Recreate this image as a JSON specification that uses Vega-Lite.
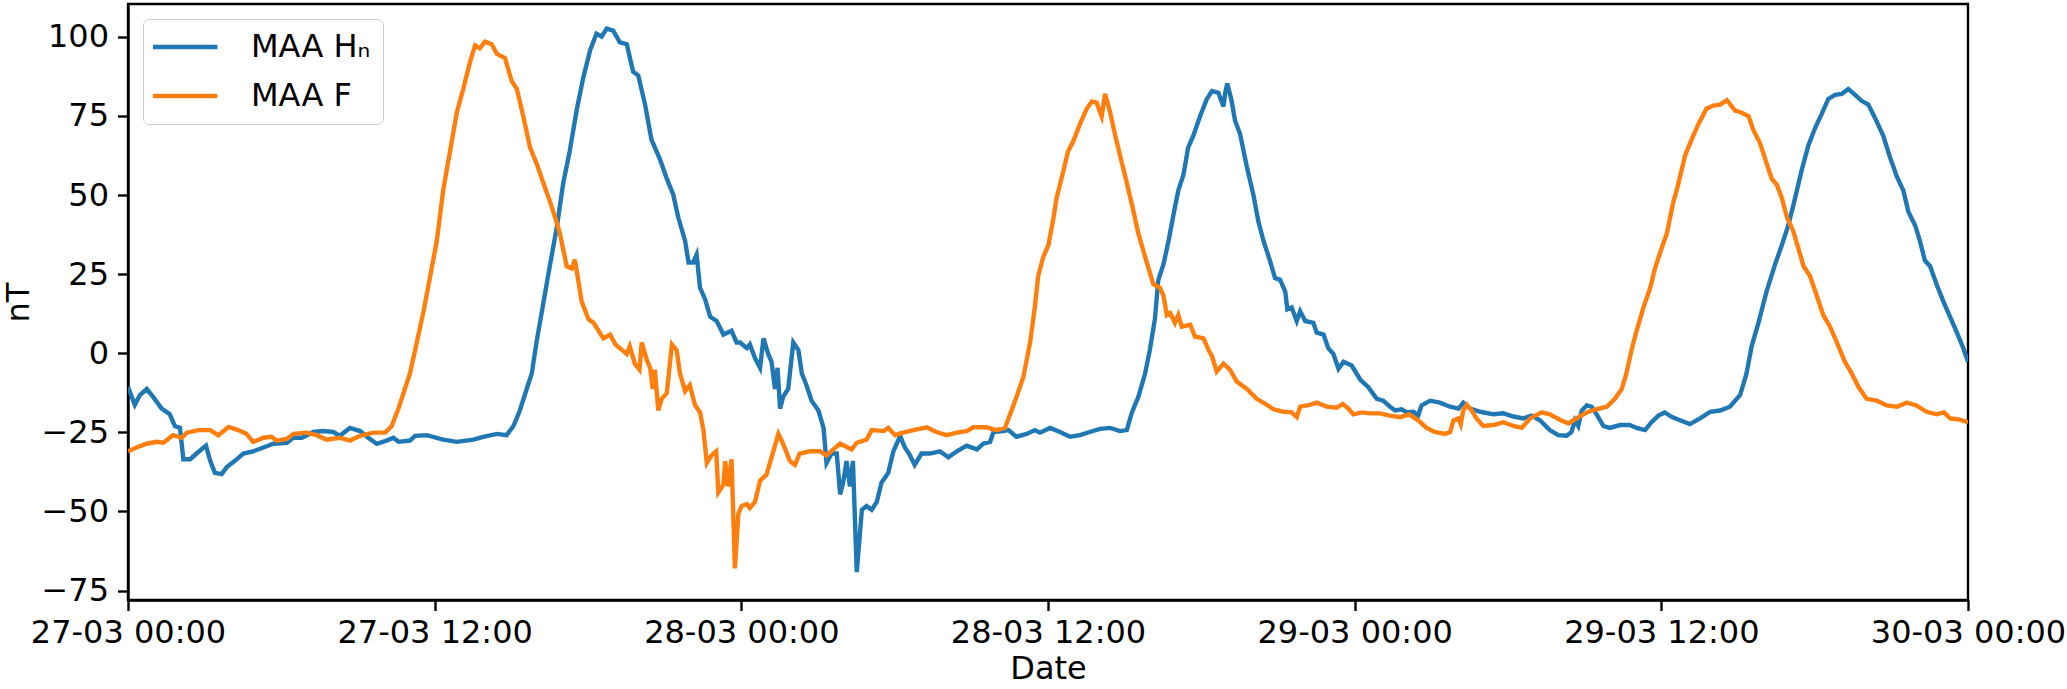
{
"$schema": "https://vega.github.io/schema/vega-lite/v6.json",
"width": 1840, "height": 596,
"autosize": {"type": "none"},
"padding": {"left": 128, "top": 4, "right": 99, "bottom": 89},
"background": "white",
"config": {
  "font": "DejaVu Sans",
  "view": {"stroke": "black", "strokeWidth": 2.4},
  "axis": {"grid": false, "domainColor": "black", "domainWidth": 2.4, "tickColor": "black", "tickWidth": 2.4, "tickSize": 10.5, "labelFont": "DejaVu Sans", "labelFontSize": 32, "labelColor": "black", "labelLimit": 0, "titleFont": "DejaVu Sans", "titleFontSize": 32, "titleFontWeight": "normal", "titleColor": "black"}
},
"data": {"values": [
{"t":"2024-03-27T00:00","s":"MAA Hₙ","v":-10.7},{"t":"2024-03-27T00:16","s":"MAA Hₙ","v":-16.3},{"t":"2024-03-27T00:28","s":"MAA Hₙ","v":-13.2},{"t":"2024-03-27T00:44","s":"MAA Hₙ","v":-11.3},{"t":"2024-03-27T00:59","s":"MAA Hₙ","v":-13.8},{"t":"2024-03-27T01:19","s":"MAA Hₙ","v":-17.5},{"t":"2024-03-27T01:38","s":"MAA Hₙ","v":-19.3},{"t":"2024-03-27T01:50","s":"MAA Hₙ","v":-23},{"t":"2024-03-27T02:02","s":"MAA Hₙ","v":-23.6},{"t":"2024-03-27T02:10","s":"MAA Hₙ","v":-33.5},{"t":"2024-03-27T02:26","s":"MAA Hₙ","v":-33.5},{"t":"2024-03-27T02:41","s":"MAA Hₙ","v":-31.7},{"t":"2024-03-27T03:03","s":"MAA Hₙ","v":-29.2},{"t":"2024-03-27T03:13","s":"MAA Hₙ","v":-34},{"t":"2024-03-27T03:24","s":"MAA Hₙ","v":-37.8},{"t":"2024-03-27T03:40","s":"MAA Hₙ","v":-38.2},{"t":"2024-03-27T03:52","s":"MAA Hₙ","v":-36},{"t":"2024-03-27T04:11","s":"MAA Hₙ","v":-34},{"t":"2024-03-27T04:31","s":"MAA Hₙ","v":-31.7},{"t":"2024-03-27T04:54","s":"MAA Hₙ","v":-31},{"t":"2024-03-27T05:18","s":"MAA Hₙ","v":-29.8},{"t":"2024-03-27T05:41","s":"MAA Hₙ","v":-28.6},{"t":"2024-03-27T06:13","s":"MAA Hₙ","v":-28.3},{"t":"2024-03-27T06:28","s":"MAA Hₙ","v":-26.7},{"t":"2024-03-27T06:48","s":"MAA Hₙ","v":-26.7},{"t":"2024-03-27T07:15","s":"MAA Hₙ","v":-24.9},{"t":"2024-03-27T07:38","s":"MAA Hₙ","v":-24.6},{"t":"2024-03-27T08:02","s":"MAA Hₙ","v":-24.9},{"t":"2024-03-27T08:17","s":"MAA Hₙ","v":-26.1},{"t":"2024-03-27T08:41","s":"MAA Hₙ","v":-23.6},{"t":"2024-03-27T09:05","s":"MAA Hₙ","v":-24.6},{"t":"2024-03-27T09:24","s":"MAA Hₙ","v":-26.7},{"t":"2024-03-27T09:44","s":"MAA Hₙ","v":-28.6},{"t":"2024-03-27T10:07","s":"MAA Hₙ","v":-27.6},{"t":"2024-03-27T10:23","s":"MAA Hₙ","v":-26.7},{"t":"2024-03-27T10:35","s":"MAA Hₙ","v":-28},{"t":"2024-03-27T11:02","s":"MAA Hₙ","v":-27.6},{"t":"2024-03-27T11:14","s":"MAA Hₙ","v":-26.1},{"t":"2024-03-27T11:41","s":"MAA Hₙ","v":-25.9},{"t":"2024-03-27T12:20","s":"MAA Hₙ","v":-27.3},{"t":"2024-03-27T12:52","s":"MAA Hₙ","v":-28},{"t":"2024-03-27T13:31","s":"MAA Hₙ","v":-27.3},{"t":"2024-03-27T13:54","s":"MAA Hₙ","v":-26.4},{"t":"2024-03-27T14:26","s":"MAA Hₙ","v":-25.5},{"t":"2024-03-27T14:49","s":"MAA Hₙ","v":-25.9},{"t":"2024-03-27T15:05","s":"MAA Hₙ","v":-23},{"t":"2024-03-27T15:20","s":"MAA Hₙ","v":-18.1},{"t":"2024-03-27T15:36","s":"MAA Hₙ","v":-11.3},{"t":"2024-03-27T15:48","s":"MAA Hₙ","v":-6.4},{"t":"2024-03-27T15:59","s":"MAA Hₙ","v":3.4},{"t":"2024-03-27T16:15","s":"MAA Hₙ","v":15.8},{"t":"2024-03-27T16:31","s":"MAA Hₙ","v":28.1},{"t":"2024-03-27T16:46","s":"MAA Hₙ","v":39.2},{"t":"2024-03-27T17:02","s":"MAA Hₙ","v":53.9},{"t":"2024-03-27T17:17","s":"MAA Hₙ","v":63.8},{"t":"2024-03-27T17:34","s":"MAA Hₙ","v":77.3},{"t":"2024-03-27T17:49","s":"MAA Hₙ","v":87.2},{"t":"2024-03-27T18:05","s":"MAA Hₙ","v":95.8},{"t":"2024-03-27T18:20","s":"MAA Hₙ","v":101},{"t":"2024-03-27T18:32","s":"MAA Hₙ","v":100.1},{"t":"2024-03-27T18:44","s":"MAA Hₙ","v":102.6},{"t":"2024-03-27T18:59","s":"MAA Hₙ","v":102},{"t":"2024-03-27T19:15","s":"MAA Hₙ","v":98.3},{"t":"2024-03-27T19:31","s":"MAA Hₙ","v":97.7},{"t":"2024-03-27T19:46","s":"MAA Hₙ","v":89},{"t":"2024-03-27T19:58","s":"MAA Hₙ","v":87.8},{"t":"2024-03-27T20:14","s":"MAA Hₙ","v":78.6},{"t":"2024-03-27T20:29","s":"MAA Hₙ","v":67.5},{"t":"2024-03-27T20:49","s":"MAA Hₙ","v":61.3},{"t":"2024-03-27T21:05","s":"MAA Hₙ","v":55.2},{"t":"2024-03-27T21:20","s":"MAA Hₙ","v":50.2},{"t":"2024-03-27T21:32","s":"MAA Hₙ","v":42.9},{"t":"2024-03-27T21:48","s":"MAA Hₙ","v":35.5},{"t":"2024-03-27T21:56","s":"MAA Hₙ","v":28.7},{"t":"2024-03-27T22:07","s":"MAA Hₙ","v":28.7},{"t":"2024-03-27T22:15","s":"MAA Hₙ","v":31.2},{"t":"2024-03-27T22:23","s":"MAA Hₙ","v":20.7},{"t":"2024-03-27T22:35","s":"MAA Hₙ","v":17},{"t":"2024-03-27T22:47","s":"MAA Hₙ","v":11.5},{"t":"2024-03-27T23:02","s":"MAA Hₙ","v":10.2},{"t":"2024-03-27T23:18","s":"MAA Hₙ","v":5.9},{"t":"2024-03-27T23:37","s":"MAA Hₙ","v":7.1},{"t":"2024-03-27T23:49","s":"MAA Hₙ","v":3.4},{"t":"2024-03-27T23:57","s":"MAA Hₙ","v":3.4},{"t":"2024-03-28T00:13","s":"MAA Hₙ","v":1.6},{"t":"2024-03-28T00:20","s":"MAA Hₙ","v":2.8},{"t":"2024-03-28T00:32","s":"MAA Hₙ","v":-1.5},{"t":"2024-03-28T00:44","s":"MAA Hₙ","v":-4.6},{"t":"2024-03-28T00:52","s":"MAA Hₙ","v":4.7},{"t":"2024-03-28T01:03","s":"MAA Hₙ","v":-0.2},{"t":"2024-03-28T01:11","s":"MAA Hₙ","v":-2.7},{"t":"2024-03-28T01:19","s":"MAA Hₙ","v":-11.3},{"t":"2024-03-28T01:25","s":"MAA Hₙ","v":-4.6},{"t":"2024-03-28T01:31","s":"MAA Hₙ","v":-17.5},{"t":"2024-03-28T01:38","s":"MAA Hₙ","v":-13.8},{"t":"2024-03-28T01:50","s":"MAA Hₙ","v":-11.3},{"t":"2024-03-28T02:02","s":"MAA Hₙ","v":3.4},{"t":"2024-03-28T02:14","s":"MAA Hₙ","v":1},{"t":"2024-03-28T02:22","s":"MAA Hₙ","v":-6.4},{"t":"2024-03-28T02:33","s":"MAA Hₙ","v":-10.1},{"t":"2024-03-28T02:45","s":"MAA Hₙ","v":-15},{"t":"2024-03-28T03:01","s":"MAA Hₙ","v":-18.1},{"t":"2024-03-28T03:13","s":"MAA Hₙ","v":-23.6},{"t":"2024-03-28T03:20","s":"MAA Hₙ","v":-34.7},{"t":"2024-03-28T03:32","s":"MAA Hₙ","v":-31.7},{"t":"2024-03-28T03:44","s":"MAA Hₙ","v":-31.7},{"t":"2024-03-28T03:52","s":"MAA Hₙ","v":-44.6},{"t":"2024-03-28T03:59","s":"MAA Hₙ","v":-40.9},{"t":"2024-03-28T04:07","s":"MAA Hₙ","v":-34.1},{"t":"2024-03-28T04:15","s":"MAA Hₙ","v":-42.1},{"t":"2024-03-28T04:22","s":"MAA Hₙ","v":-34.1},{"t":"2024-03-28T04:31","s":"MAA Hₙ","v":-69.2},{"t":"2024-03-28T04:43","s":"MAA Hₙ","v":-49.5},{"t":"2024-03-28T04:54","s":"MAA Hₙ","v":-48.3},{"t":"2024-03-28T05:06","s":"MAA Hₙ","v":-49.5},{"t":"2024-03-28T05:18","s":"MAA Hₙ","v":-47},{"t":"2024-03-28T05:29","s":"MAA Hₙ","v":-40.9},{"t":"2024-03-28T05:45","s":"MAA Hₙ","v":-37.8},{"t":"2024-03-28T05:57","s":"MAA Hₙ","v":-31},{"t":"2024-03-28T06:13","s":"MAA Hₙ","v":-26.1},{"t":"2024-03-28T06:24","s":"MAA Hₙ","v":-29.8},{"t":"2024-03-28T06:36","s":"MAA Hₙ","v":-32.3},{"t":"2024-03-28T06:47","s":"MAA Hₙ","v":-35.3},{"t":"2024-03-28T07:03","s":"MAA Hₙ","v":-31.7},{"t":"2024-03-28T07:23","s":"MAA Hₙ","v":-31.7},{"t":"2024-03-28T07:46","s":"MAA Hₙ","v":-31},{"t":"2024-03-28T08:06","s":"MAA Hₙ","v":-32.9},{"t":"2024-03-28T08:26","s":"MAA Hₙ","v":-31},{"t":"2024-03-28T08:49","s":"MAA Hₙ","v":-29.2},{"t":"2024-03-28T09:13","s":"MAA Hₙ","v":-30.4},{"t":"2024-03-28T09:28","s":"MAA Hₙ","v":-28.6},{"t":"2024-03-28T09:44","s":"MAA Hₙ","v":-28},{"t":"2024-03-28T09:52","s":"MAA Hₙ","v":-24.9},{"t":"2024-03-28T10:15","s":"MAA Hₙ","v":-24.6},{"t":"2024-03-28T10:27","s":"MAA Hₙ","v":-24.3},{"t":"2024-03-28T10:46","s":"MAA Hₙ","v":-26.4},{"t":"2024-03-28T11:10","s":"MAA Hₙ","v":-25.5},{"t":"2024-03-28T11:29","s":"MAA Hₙ","v":-24.3},{"t":"2024-03-28T11:41","s":"MAA Hₙ","v":-25.1},{"t":"2024-03-28T12:05","s":"MAA Hₙ","v":-23.6},{"t":"2024-03-28T12:28","s":"MAA Hₙ","v":-24.9},{"t":"2024-03-28T12:52","s":"MAA Hₙ","v":-26.4},{"t":"2024-03-28T13:15","s":"MAA Hₙ","v":-25.9},{"t":"2024-03-28T13:38","s":"MAA Hₙ","v":-24.9},{"t":"2024-03-28T14:02","s":"MAA Hₙ","v":-23.9},{"t":"2024-03-28T14:26","s":"MAA Hₙ","v":-23.6},{"t":"2024-03-28T14:49","s":"MAA Hₙ","v":-24.6},{"t":"2024-03-28T15:05","s":"MAA Hₙ","v":-24.3},{"t":"2024-03-28T15:17","s":"MAA Hₙ","v":-18.7},{"t":"2024-03-28T15:32","s":"MAA Hₙ","v":-13.8},{"t":"2024-03-28T15:48","s":"MAA Hₙ","v":-6.4},{"t":"2024-03-28T15:59","s":"MAA Hₙ","v":1},{"t":"2024-03-28T16:11","s":"MAA Hₙ","v":10.8},{"t":"2024-03-28T16:19","s":"MAA Hₙ","v":23.2},{"t":"2024-03-28T16:31","s":"MAA Hₙ","v":28.1},{"t":"2024-03-28T16:43","s":"MAA Hₙ","v":35.5},{"t":"2024-03-28T16:55","s":"MAA Hₙ","v":44.1},{"t":"2024-03-28T17:06","s":"MAA Hₙ","v":51.5},{"t":"2024-03-28T17:18","s":"MAA Hₙ","v":56.4},{"t":"2024-03-28T17:29","s":"MAA Hₙ","v":65},{"t":"2024-03-28T17:41","s":"MAA Hₙ","v":68.7},{"t":"2024-03-28T17:57","s":"MAA Hₙ","v":74.9},{"t":"2024-03-28T18:13","s":"MAA Hₙ","v":80.4},{"t":"2024-03-28T18:25","s":"MAA Hₙ","v":82.9},{"t":"2024-03-28T18:40","s":"MAA Hₙ","v":82.3},{"t":"2024-03-28T18:52","s":"MAA Hₙ","v":78},{"t":"2024-03-28T18:56","s":"MAA Hₙ","v":82.3},{"t":"2024-03-28T19:01","s":"MAA Hₙ","v":85.3},{"t":"2024-03-28T19:11","s":"MAA Hₙ","v":79.8},{"t":"2024-03-28T19:19","s":"MAA Hₙ","v":73.6},{"t":"2024-03-28T19:31","s":"MAA Hₙ","v":69.3},{"t":"2024-03-28T19:47","s":"MAA Hₙ","v":58.9},{"t":"2024-03-28T20:02","s":"MAA Hₙ","v":50.2},{"t":"2024-03-28T20:14","s":"MAA Hₙ","v":41.6},{"t":"2024-03-28T20:26","s":"MAA Hₙ","v":35.5},{"t":"2024-03-28T20:41","s":"MAA Hₙ","v":29.3},{"t":"2024-03-28T20:53","s":"MAA Hₙ","v":23.8},{"t":"2024-03-28T21:05","s":"MAA Hₙ","v":23.2},{"t":"2024-03-28T21:17","s":"MAA Hₙ","v":19.5},{"t":"2024-03-28T21:22","s":"MAA Hₙ","v":13.9},{"t":"2024-03-28T21:32","s":"MAA Hₙ","v":14.5},{"t":"2024-03-28T21:44","s":"MAA Hₙ","v":10.2},{"t":"2024-03-28T21:52","s":"MAA Hₙ","v":13.3},{"t":"2024-03-28T22:04","s":"MAA Hₙ","v":10.2},{"t":"2024-03-28T22:23","s":"MAA Hₙ","v":9.6},{"t":"2024-03-28T22:31","s":"MAA Hₙ","v":6.5},{"t":"2024-03-28T22:47","s":"MAA Hₙ","v":5.9},{"t":"2024-03-28T22:58","s":"MAA Hₙ","v":1.6},{"t":"2024-03-28T23:10","s":"MAA Hₙ","v":-0.2},{"t":"2024-03-28T23:22","s":"MAA Hₙ","v":-4.9},{"t":"2024-03-28T23:34","s":"MAA Hₙ","v":-2.7},{"t":"2024-03-28T23:53","s":"MAA Hₙ","v":-3.9},{"t":"2024-03-29T00:13","s":"MAA Hₙ","v":-8.3},{"t":"2024-03-29T00:32","s":"MAA Hₙ","v":-10.7},{"t":"2024-03-29T00:52","s":"MAA Hₙ","v":-14.4},{"t":"2024-03-29T01:07","s":"MAA Hₙ","v":-15},{"t":"2024-03-29T01:23","s":"MAA Hₙ","v":-16.9},{"t":"2024-03-29T01:35","s":"MAA Hₙ","v":-18.1},{"t":"2024-03-29T01:50","s":"MAA Hₙ","v":-17.7},{"t":"2024-03-29T02:02","s":"MAA Hₙ","v":-18.7},{"t":"2024-03-29T02:18","s":"MAA Hₙ","v":-18.5},{"t":"2024-03-29T02:29","s":"MAA Hₙ","v":-19.7},{"t":"2024-03-29T02:37","s":"MAA Hₙ","v":-16.5},{"t":"2024-03-29T02:57","s":"MAA Hₙ","v":-15},{"t":"2024-03-29T03:20","s":"MAA Hₙ","v":-15.6},{"t":"2024-03-29T03:44","s":"MAA Hₙ","v":-16.9},{"t":"2024-03-29T04:04","s":"MAA Hₙ","v":-17.5},{"t":"2024-03-29T04:15","s":"MAA Hₙ","v":-15.6},{"t":"2024-03-29T04:31","s":"MAA Hₙ","v":-17.5},{"t":"2024-03-29T04:55","s":"MAA Hₙ","v":-18.5},{"t":"2024-03-29T05:26","s":"MAA Hₙ","v":-19.3},{"t":"2024-03-29T05:49","s":"MAA Hₙ","v":-19},{"t":"2024-03-29T06:13","s":"MAA Hₙ","v":-20},{"t":"2024-03-29T06:36","s":"MAA Hₙ","v":-20.6},{"t":"2024-03-29T06:56","s":"MAA Hₙ","v":-19.7},{"t":"2024-03-29T07:15","s":"MAA Hₙ","v":-21.2},{"t":"2024-03-29T07:38","s":"MAA Hₙ","v":-24.3},{"t":"2024-03-29T07:58","s":"MAA Hₙ","v":-25.9},{"t":"2024-03-29T08:18","s":"MAA Hₙ","v":-26.1},{"t":"2024-03-29T08:29","s":"MAA Hₙ","v":-24.9},{"t":"2024-03-29T08:37","s":"MAA Hₙ","v":-21.2},{"t":"2024-03-29T08:45","s":"MAA Hₙ","v":-23},{"t":"2024-03-29T08:53","s":"MAA Hₙ","v":-18.1},{"t":"2024-03-29T09:05","s":"MAA Hₙ","v":-16.5},{"t":"2024-03-29T09:16","s":"MAA Hₙ","v":-16.9},{"t":"2024-03-29T09:28","s":"MAA Hₙ","v":-19.3},{"t":"2024-03-29T09:44","s":"MAA Hₙ","v":-23},{"t":"2024-03-29T09:59","s":"MAA Hₙ","v":-23.6},{"t":"2024-03-29T10:23","s":"MAA Hₙ","v":-22.7},{"t":"2024-03-29T10:46","s":"MAA Hₙ","v":-22.7},{"t":"2024-03-29T11:02","s":"MAA Hₙ","v":-23.6},{"t":"2024-03-29T11:22","s":"MAA Hₙ","v":-24.3},{"t":"2024-03-29T11:37","s":"MAA Hₙ","v":-21.8},{"t":"2024-03-29T11:53","s":"MAA Hₙ","v":-19.7},{"t":"2024-03-29T12:08","s":"MAA Hₙ","v":-18.7},{"t":"2024-03-29T12:25","s":"MAA Hₙ","v":-20.2},{"t":"2024-03-29T12:44","s":"MAA Hₙ","v":-21.2},{"t":"2024-03-29T13:07","s":"MAA Hₙ","v":-22.4},{"t":"2024-03-29T13:31","s":"MAA Hₙ","v":-20.6},{"t":"2024-03-29T13:55","s":"MAA Hₙ","v":-18.5},{"t":"2024-03-29T14:18","s":"MAA Hₙ","v":-18.1},{"t":"2024-03-29T14:41","s":"MAA Hₙ","v":-16.9},{"t":"2024-03-29T15:05","s":"MAA Hₙ","v":-13.2},{"t":"2024-03-29T15:20","s":"MAA Hₙ","v":-6.4},{"t":"2024-03-29T15:32","s":"MAA Hₙ","v":2.2},{"t":"2024-03-29T15:48","s":"MAA Hₙ","v":9.6},{"t":"2024-03-29T16:07","s":"MAA Hₙ","v":19.5},{"t":"2024-03-29T16:27","s":"MAA Hₙ","v":28.1},{"t":"2024-03-29T16:43","s":"MAA Hₙ","v":34.2},{"t":"2024-03-29T16:58","s":"MAA Hₙ","v":40.4},{"t":"2024-03-29T17:14","s":"MAA Hₙ","v":49},{"t":"2024-03-29T17:29","s":"MAA Hₙ","v":57.6},{"t":"2024-03-29T17:45","s":"MAA Hₙ","v":65.6},{"t":"2024-03-29T18:01","s":"MAA Hₙ","v":71.2},{"t":"2024-03-29T18:16","s":"MAA Hₙ","v":75.5},{"t":"2024-03-29T18:32","s":"MAA Hₙ","v":80.4},{"t":"2024-03-29T18:48","s":"MAA Hₙ","v":81.7},{"t":"2024-03-29T19:04","s":"MAA Hₙ","v":82},{"t":"2024-03-29T19:19","s":"MAA Hₙ","v":83.5},{"t":"2024-03-29T19:35","s":"MAA Hₙ","v":81.7},{"t":"2024-03-29T19:50","s":"MAA Hₙ","v":79.8},{"t":"2024-03-29T20:06","s":"MAA Hₙ","v":78.6},{"t":"2024-03-29T20:22","s":"MAA Hₙ","v":74.3},{"t":"2024-03-29T20:41","s":"MAA Hₙ","v":68.7},{"t":"2024-03-29T20:57","s":"MAA Hₙ","v":61.9},{"t":"2024-03-29T21:13","s":"MAA Hₙ","v":55.8},{"t":"2024-03-29T21:28","s":"MAA Hₙ","v":51.5},{"t":"2024-03-29T21:40","s":"MAA Hₙ","v":44.7},{"t":"2024-03-29T21:56","s":"MAA Hₙ","v":40.4},{"t":"2024-03-29T22:07","s":"MAA Hₙ","v":35.5},{"t":"2024-03-29T22:19","s":"MAA Hₙ","v":29.3},{"t":"2024-03-29T22:31","s":"MAA Hₙ","v":27.5},{"t":"2024-03-29T22:46","s":"MAA Hₙ","v":21.9},{"t":"2024-03-29T23:02","s":"MAA Hₙ","v":16.4},{"t":"2024-03-29T23:18","s":"MAA Hₙ","v":11.5},{"t":"2024-03-29T23:34","s":"MAA Hₙ","v":6.5},{"t":"2024-03-29T23:49","s":"MAA Hₙ","v":1.6},{"t":"2024-03-30T00:00","s":"MAA Hₙ","v":-2.7},
{"t":"2024-03-27T00:00","s":"MAA F","v":-31},{"t":"2024-03-27T00:20","s":"MAA F","v":-29.8},{"t":"2024-03-27T00:44","s":"MAA F","v":-28.6},{"t":"2024-03-27T01:07","s":"MAA F","v":-28},{"t":"2024-03-27T01:23","s":"MAA F","v":-28.3},{"t":"2024-03-27T01:46","s":"MAA F","v":-25.9},{"t":"2024-03-27T02:06","s":"MAA F","v":-26.7},{"t":"2024-03-27T02:18","s":"MAA F","v":-25.1},{"t":"2024-03-27T02:45","s":"MAA F","v":-24.3},{"t":"2024-03-27T03:13","s":"MAA F","v":-24.3},{"t":"2024-03-27T03:32","s":"MAA F","v":-25.9},{"t":"2024-03-27T03:56","s":"MAA F","v":-23.3},{"t":"2024-03-27T04:19","s":"MAA F","v":-24.3},{"t":"2024-03-27T04:38","s":"MAA F","v":-25.5},{"t":"2024-03-27T04:54","s":"MAA F","v":-28},{"t":"2024-03-27T05:18","s":"MAA F","v":-26.7},{"t":"2024-03-27T05:37","s":"MAA F","v":-26.4},{"t":"2024-03-27T05:49","s":"MAA F","v":-27.6},{"t":"2024-03-27T06:13","s":"MAA F","v":-27.1},{"t":"2024-03-27T06:28","s":"MAA F","v":-25.5},{"t":"2024-03-27T06:59","s":"MAA F","v":-25.1},{"t":"2024-03-27T07:23","s":"MAA F","v":-25.9},{"t":"2024-03-27T07:46","s":"MAA F","v":-27.3},{"t":"2024-03-27T08:17","s":"MAA F","v":-26.7},{"t":"2024-03-27T08:41","s":"MAA F","v":-27.6},{"t":"2024-03-27T09:05","s":"MAA F","v":-26.1},{"t":"2024-03-27T09:36","s":"MAA F","v":-25.1},{"t":"2024-03-27T10:04","s":"MAA F","v":-25.1},{"t":"2024-03-27T10:19","s":"MAA F","v":-23},{"t":"2024-03-27T10:35","s":"MAA F","v":-17.5},{"t":"2024-03-27T10:50","s":"MAA F","v":-11.3},{"t":"2024-03-27T11:02","s":"MAA F","v":-6.4},{"t":"2024-03-27T11:18","s":"MAA F","v":3.4},{"t":"2024-03-27T11:34","s":"MAA F","v":13.3},{"t":"2024-03-27T11:49","s":"MAA F","v":24},{"t":"2024-03-27T12:05","s":"MAA F","v":35.5},{"t":"2024-03-27T12:20","s":"MAA F","v":51.5},{"t":"2024-03-27T12:36","s":"MAA F","v":63.8},{"t":"2024-03-27T12:52","s":"MAA F","v":76.1},{"t":"2024-03-27T13:07","s":"MAA F","v":83.5},{"t":"2024-03-27T13:23","s":"MAA F","v":92.1},{"t":"2024-03-27T13:35","s":"MAA F","v":97.3},{"t":"2024-03-27T13:46","s":"MAA F","v":96.4},{"t":"2024-03-27T13:58","s":"MAA F","v":98.5},{"t":"2024-03-27T14:14","s":"MAA F","v":97.7},{"t":"2024-03-27T14:26","s":"MAA F","v":94.6},{"t":"2024-03-27T14:45","s":"MAA F","v":93.3},{"t":"2024-03-27T15:01","s":"MAA F","v":86},{"t":"2024-03-27T15:13","s":"MAA F","v":83.5},{"t":"2024-03-27T15:28","s":"MAA F","v":74.9},{"t":"2024-03-27T15:44","s":"MAA F","v":65},{"t":"2024-03-27T15:59","s":"MAA F","v":60.1},{"t":"2024-03-27T16:15","s":"MAA F","v":53.9},{"t":"2024-03-27T16:31","s":"MAA F","v":47.8},{"t":"2024-03-27T16:43","s":"MAA F","v":42.9},{"t":"2024-03-27T16:54","s":"MAA F","v":37.9},{"t":"2024-03-27T17:10","s":"MAA F","v":27.5},{"t":"2024-03-27T17:22","s":"MAA F","v":26.8},{"t":"2024-03-27T17:29","s":"MAA F","v":29.6},{"t":"2024-03-27T17:37","s":"MAA F","v":23.2},{"t":"2024-03-27T17:45","s":"MAA F","v":16.4},{"t":"2024-03-27T18:01","s":"MAA F","v":10.8},{"t":"2024-03-27T18:13","s":"MAA F","v":9.6},{"t":"2024-03-27T18:36","s":"MAA F","v":4.7},{"t":"2024-03-27T18:52","s":"MAA F","v":5.9},{"t":"2024-03-27T19:04","s":"MAA F","v":2.8},{"t":"2024-03-27T19:31","s":"MAA F","v":-0.2},{"t":"2024-03-27T19:38","s":"MAA F","v":2.2},{"t":"2024-03-27T19:50","s":"MAA F","v":-3.3},{"t":"2024-03-27T20:01","s":"MAA F","v":-5.2},{"t":"2024-03-27T20:06","s":"MAA F","v":3.4},{"t":"2024-03-27T20:18","s":"MAA F","v":-2.1},{"t":"2024-03-27T20:26","s":"MAA F","v":-4.6},{"t":"2024-03-27T20:32","s":"MAA F","v":-11.3},{"t":"2024-03-27T20:37","s":"MAA F","v":-5.2},{"t":"2024-03-27T20:45","s":"MAA F","v":-18.1},{"t":"2024-03-27T20:53","s":"MAA F","v":-14.4},{"t":"2024-03-27T21:05","s":"MAA F","v":-12.6},{"t":"2024-03-27T21:17","s":"MAA F","v":2.8},{"t":"2024-03-27T21:28","s":"MAA F","v":1},{"t":"2024-03-27T21:36","s":"MAA F","v":-6.4},{"t":"2024-03-27T21:48","s":"MAA F","v":-12},{"t":"2024-03-27T21:59","s":"MAA F","v":-10.1},{"t":"2024-03-27T22:11","s":"MAA F","v":-16.3},{"t":"2024-03-27T22:23","s":"MAA F","v":-18.7},{"t":"2024-03-27T22:31","s":"MAA F","v":-24.3},{"t":"2024-03-27T22:39","s":"MAA F","v":-34.7},{"t":"2024-03-27T22:50","s":"MAA F","v":-32.3},{"t":"2024-03-27T23:01","s":"MAA F","v":-31},{"t":"2024-03-27T23:06","s":"MAA F","v":-44},{"t":"2024-03-27T23:18","s":"MAA F","v":-41.5},{"t":"2024-03-27T23:22","s":"MAA F","v":-34.1},{"t":"2024-03-27T23:29","s":"MAA F","v":-42.1},{"t":"2024-03-27T23:37","s":"MAA F","v":-33.5},{"t":"2024-03-27T23:45","s":"MAA F","v":-68},{"t":"2024-03-27T23:53","s":"MAA F","v":-50.7},{"t":"2024-03-28T00:01","s":"MAA F","v":-48.3},{"t":"2024-03-28T00:13","s":"MAA F","v":-47.7},{"t":"2024-03-28T00:20","s":"MAA F","v":-48.9},{"t":"2024-03-28T00:32","s":"MAA F","v":-47},{"t":"2024-03-28T00:44","s":"MAA F","v":-40.3},{"t":"2024-03-28T00:59","s":"MAA F","v":-38.4},{"t":"2024-03-28T01:11","s":"MAA F","v":-32.9},{"t":"2024-03-28T01:27","s":"MAA F","v":-25.5},{"t":"2024-03-28T01:38","s":"MAA F","v":-28.6},{"t":"2024-03-28T01:54","s":"MAA F","v":-34.1},{"t":"2024-03-28T02:06","s":"MAA F","v":-35.3},{"t":"2024-03-28T02:17","s":"MAA F","v":-31.7},{"t":"2024-03-28T02:41","s":"MAA F","v":-31},{"t":"2024-03-28T03:05","s":"MAA F","v":-31},{"t":"2024-03-28T03:20","s":"MAA F","v":-32.3},{"t":"2024-03-28T03:36","s":"MAA F","v":-30.4},{"t":"2024-03-28T03:52","s":"MAA F","v":-28.6},{"t":"2024-03-28T04:19","s":"MAA F","v":-30.4},{"t":"2024-03-28T04:31","s":"MAA F","v":-28.3},{"t":"2024-03-28T04:54","s":"MAA F","v":-27.3},{"t":"2024-03-28T05:06","s":"MAA F","v":-24.3},{"t":"2024-03-28T05:34","s":"MAA F","v":-24.6},{"t":"2024-03-28T05:45","s":"MAA F","v":-23.6},{"t":"2024-03-28T06:01","s":"MAA F","v":-25.9},{"t":"2024-03-28T06:20","s":"MAA F","v":-25.1},{"t":"2024-03-28T06:44","s":"MAA F","v":-24.3},{"t":"2024-03-28T07:15","s":"MAA F","v":-23.4},{"t":"2024-03-28T07:38","s":"MAA F","v":-24.9},{"t":"2024-03-28T08:02","s":"MAA F","v":-25.9},{"t":"2024-03-28T08:26","s":"MAA F","v":-25.1},{"t":"2024-03-28T08:49","s":"MAA F","v":-24.6},{"t":"2024-03-28T09:05","s":"MAA F","v":-23.4},{"t":"2024-03-28T09:36","s":"MAA F","v":-23.4},{"t":"2024-03-28T09:59","s":"MAA F","v":-24.3},{"t":"2024-03-28T10:19","s":"MAA F","v":-23.6},{"t":"2024-03-28T10:31","s":"MAA F","v":-19.3},{"t":"2024-03-28T10:46","s":"MAA F","v":-13.8},{"t":"2024-03-28T11:02","s":"MAA F","v":-7.6},{"t":"2024-03-28T11:18","s":"MAA F","v":3.4},{"t":"2024-03-28T11:29","s":"MAA F","v":14.5},{"t":"2024-03-28T11:37","s":"MAA F","v":24.4},{"t":"2024-03-28T11:49","s":"MAA F","v":30.5},{"t":"2024-03-28T12:01","s":"MAA F","v":34.2},{"t":"2024-03-28T12:13","s":"MAA F","v":42.9},{"t":"2024-03-28T12:20","s":"MAA F","v":49},{"t":"2024-03-28T12:36","s":"MAA F","v":57.6},{"t":"2024-03-28T12:47","s":"MAA F","v":63.8},{"t":"2024-03-28T12:59","s":"MAA F","v":66.9},{"t":"2024-03-28T13:15","s":"MAA F","v":72.4},{"t":"2024-03-28T13:31","s":"MAA F","v":77.3},{"t":"2024-03-28T13:43","s":"MAA F","v":79.6},{"t":"2024-03-28T13:54","s":"MAA F","v":79.2},{"t":"2024-03-28T14:06","s":"MAA F","v":74.9},{"t":"2024-03-28T14:14","s":"MAA F","v":82},{"t":"2024-03-28T14:26","s":"MAA F","v":76.1},{"t":"2024-03-28T14:37","s":"MAA F","v":69.3},{"t":"2024-03-28T14:49","s":"MAA F","v":62.6},{"t":"2024-03-28T15:05","s":"MAA F","v":53.9},{"t":"2024-03-28T15:20","s":"MAA F","v":45.3},{"t":"2024-03-28T15:32","s":"MAA F","v":37.9},{"t":"2024-03-28T15:48","s":"MAA F","v":30.5},{"t":"2024-03-28T15:59","s":"MAA F","v":25.6},{"t":"2024-03-28T16:07","s":"MAA F","v":21.9},{"t":"2024-03-28T16:23","s":"MAA F","v":20.7},{"t":"2024-03-28T16:31","s":"MAA F","v":18.2},{"t":"2024-03-28T16:39","s":"MAA F","v":12.1},{"t":"2024-03-28T16:47","s":"MAA F","v":12.7},{"t":"2024-03-28T16:58","s":"MAA F","v":9.6},{"t":"2024-03-28T17:06","s":"MAA F","v":12.1},{"t":"2024-03-28T17:14","s":"MAA F","v":8.4},{"t":"2024-03-28T17:34","s":"MAA F","v":9},{"t":"2024-03-28T17:45","s":"MAA F","v":5.3},{"t":"2024-03-28T18:05","s":"MAA F","v":4.7},{"t":"2024-03-28T18:17","s":"MAA F","v":1},{"t":"2024-03-28T18:25","s":"MAA F","v":-0.9},{"t":"2024-03-28T18:36","s":"MAA F","v":-5.8},{"t":"2024-03-28T18:52","s":"MAA F","v":-3.3},{"t":"2024-03-28T19:07","s":"MAA F","v":-5.2},{"t":"2024-03-28T19:23","s":"MAA F","v":-8.9},{"t":"2024-03-28T19:47","s":"MAA F","v":-11.3},{"t":"2024-03-28T20:10","s":"MAA F","v":-14.4},{"t":"2024-03-28T20:34","s":"MAA F","v":-16.3},{"t":"2024-03-28T20:49","s":"MAA F","v":-17.7},{"t":"2024-03-28T21:13","s":"MAA F","v":-18.5},{"t":"2024-03-28T21:32","s":"MAA F","v":-18.7},{"t":"2024-03-28T21:44","s":"MAA F","v":-20.2},{"t":"2024-03-28T21:52","s":"MAA F","v":-16.9},{"t":"2024-03-28T22:15","s":"MAA F","v":-16.3},{"t":"2024-03-28T22:31","s":"MAA F","v":-15.6},{"t":"2024-03-28T22:55","s":"MAA F","v":-16.9},{"t":"2024-03-28T23:18","s":"MAA F","v":-17.2},{"t":"2024-03-28T23:32","s":"MAA F","v":-16},{"t":"2024-03-28T23:45","s":"MAA F","v":-17.5},{"t":"2024-03-28T23:57","s":"MAA F","v":-19.3},{"t":"2024-03-29T00:17","s":"MAA F","v":-18.7},{"t":"2024-03-29T00:36","s":"MAA F","v":-19},{"t":"2024-03-29T00:59","s":"MAA F","v":-19},{"t":"2024-03-29T01:23","s":"MAA F","v":-19.7},{"t":"2024-03-29T01:47","s":"MAA F","v":-20.2},{"t":"2024-03-29T02:08","s":"MAA F","v":-19.3},{"t":"2024-03-29T02:29","s":"MAA F","v":-21.2},{"t":"2024-03-29T02:49","s":"MAA F","v":-23.6},{"t":"2024-03-29T03:08","s":"MAA F","v":-24.9},{"t":"2024-03-29T03:32","s":"MAA F","v":-25.5},{"t":"2024-03-29T03:44","s":"MAA F","v":-24.9},{"t":"2024-03-29T03:52","s":"MAA F","v":-21.2},{"t":"2024-03-29T04:04","s":"MAA F","v":-20.6},{"t":"2024-03-29T04:09","s":"MAA F","v":-22.4},{"t":"2024-03-29T04:15","s":"MAA F","v":-18.1},{"t":"2024-03-29T04:23","s":"MAA F","v":-16.3},{"t":"2024-03-29T04:35","s":"MAA F","v":-18.1},{"t":"2024-03-29T04:46","s":"MAA F","v":-20.6},{"t":"2024-03-29T05:02","s":"MAA F","v":-23},{"t":"2024-03-29T05:26","s":"MAA F","v":-22.7},{"t":"2024-03-29T05:49","s":"MAA F","v":-21.8},{"t":"2024-03-29T06:13","s":"MAA F","v":-23},{"t":"2024-03-29T06:32","s":"MAA F","v":-23.6},{"t":"2024-03-29T06:52","s":"MAA F","v":-20.6},{"t":"2024-03-29T07:19","s":"MAA F","v":-18.7},{"t":"2024-03-29T07:38","s":"MAA F","v":-19.3},{"t":"2024-03-29T08:02","s":"MAA F","v":-21},{"t":"2024-03-29T08:22","s":"MAA F","v":-22.2},{"t":"2024-03-29T08:41","s":"MAA F","v":-20.6},{"t":"2024-03-29T09:05","s":"MAA F","v":-18.7},{"t":"2024-03-29T09:28","s":"MAA F","v":-17.7},{"t":"2024-03-29T09:52","s":"MAA F","v":-16.9},{"t":"2024-03-29T10:11","s":"MAA F","v":-14.4},{"t":"2024-03-29T10:27","s":"MAA F","v":-11.3},{"t":"2024-03-29T10:38","s":"MAA F","v":-6.4},{"t":"2024-03-29T10:50","s":"MAA F","v":1},{"t":"2024-03-29T11:02","s":"MAA F","v":7.1},{"t":"2024-03-29T11:18","s":"MAA F","v":14.5},{"t":"2024-03-29T11:34","s":"MAA F","v":20.7},{"t":"2024-03-29T11:45","s":"MAA F","v":26.8},{"t":"2024-03-29T11:57","s":"MAA F","v":31.8},{"t":"2024-03-29T12:13","s":"MAA F","v":37.9},{"t":"2024-03-29T12:28","s":"MAA F","v":47.8},{"t":"2024-03-29T12:36","s":"MAA F","v":51.5},{"t":"2024-03-29T12:56","s":"MAA F","v":62.6},{"t":"2024-03-29T13:11","s":"MAA F","v":67.5},{"t":"2024-03-29T13:27","s":"MAA F","v":72.4},{"t":"2024-03-29T13:46","s":"MAA F","v":77.3},{"t":"2024-03-29T14:02","s":"MAA F","v":78.3},{"t":"2024-03-29T14:18","s":"MAA F","v":78.6},{"t":"2024-03-29T14:34","s":"MAA F","v":80},{"t":"2024-03-29T14:53","s":"MAA F","v":76.7},{"t":"2024-03-29T15:08","s":"MAA F","v":76.1},{"t":"2024-03-29T15:25","s":"MAA F","v":74.9},{"t":"2024-03-29T15:36","s":"MAA F","v":70.6},{"t":"2024-03-29T15:52","s":"MAA F","v":66.3},{"t":"2024-03-29T16:07","s":"MAA F","v":60.1},{"t":"2024-03-29T16:19","s":"MAA F","v":55.2},{"t":"2024-03-29T16:31","s":"MAA F","v":53.3},{"t":"2024-03-29T16:43","s":"MAA F","v":49},{"t":"2024-03-29T16:55","s":"MAA F","v":42.9},{"t":"2024-03-29T17:10","s":"MAA F","v":38.5},{"t":"2024-03-29T17:22","s":"MAA F","v":33},{"t":"2024-03-29T17:34","s":"MAA F","v":27.5},{"t":"2024-03-29T17:49","s":"MAA F","v":24.4},{"t":"2024-03-29T18:05","s":"MAA F","v":18.2},{"t":"2024-03-29T18:20","s":"MAA F","v":12.1},{"t":"2024-03-29T18:36","s":"MAA F","v":8.4},{"t":"2024-03-29T18:52","s":"MAA F","v":3.4},{"t":"2024-03-29T19:11","s":"MAA F","v":-2.7},{"t":"2024-03-29T19:27","s":"MAA F","v":-6.4},{"t":"2024-03-29T19:43","s":"MAA F","v":-10.7},{"t":"2024-03-29T20:02","s":"MAA F","v":-14.4},{"t":"2024-03-29T20:26","s":"MAA F","v":-15},{"t":"2024-03-29T20:49","s":"MAA F","v":-16.5},{"t":"2024-03-29T21:13","s":"MAA F","v":-16.9},{"t":"2024-03-29T21:36","s":"MAA F","v":-15.6},{"t":"2024-03-29T21:59","s":"MAA F","v":-16.5},{"t":"2024-03-29T22:23","s":"MAA F","v":-18.5},{"t":"2024-03-29T22:46","s":"MAA F","v":-19.3},{"t":"2024-03-29T23:04","s":"MAA F","v":-18.7},{"t":"2024-03-29T23:18","s":"MAA F","v":-20.6},{"t":"2024-03-29T23:41","s":"MAA F","v":-21},{"t":"2024-03-30T00:00","s":"MAA F","v":-21.8}
]},
"mark": {"type": "line", "strokeWidth": 4.4, "clip": true},
"encoding": {
  "x": {"field": "t", "type": "temporal",
    "scale": {"domain": ["2024-03-27T00:00", "2024-03-30T00:00"]},
    "axis": {"title": "Date", "format": "%d-%m %H:%M", "values": ["2024-03-27T00:00", "2024-03-27T12:00", "2024-03-28T00:00", "2024-03-28T12:00", "2024-03-29T00:00", "2024-03-29T12:00", "2024-03-30T00:00"], "labelFlush": false, "labelOverlap": false, "labelPadding": 7, "titlePadding": 5}},
  "y": {"field": "v", "type": "quantitative",
    "scale": {"domain": [-78, 110.4], "nice": false, "zero": false},
    "axis": {"title": "nT", "values": [-75, -50, -25, 0, 25, 50, 75, 100], "labelPadding": 9, "titlePadding": 5}},
  "color": {"field": "s", "type": "nominal",
    "scale": {"domain": ["MAA Hₙ", "MAA F"], "range": ["#1f77b4", "#ff7f0e"]},
    "legend": {"title": null, "orient": "top-left", "offset": 15, "padding": 12, "fillColor": "white", "strokeColor": "#cccccc", "cornerRadius": 6, "labelFontSize": 32, "labelColor": "black", "labelLimit": 0, "symbolType": "M-1.57,0H4.04", "symbolSize": 529, "symbolStrokeWidth": 4.4, "labelOffset": 64, "rowPadding": 17}}
}
}
